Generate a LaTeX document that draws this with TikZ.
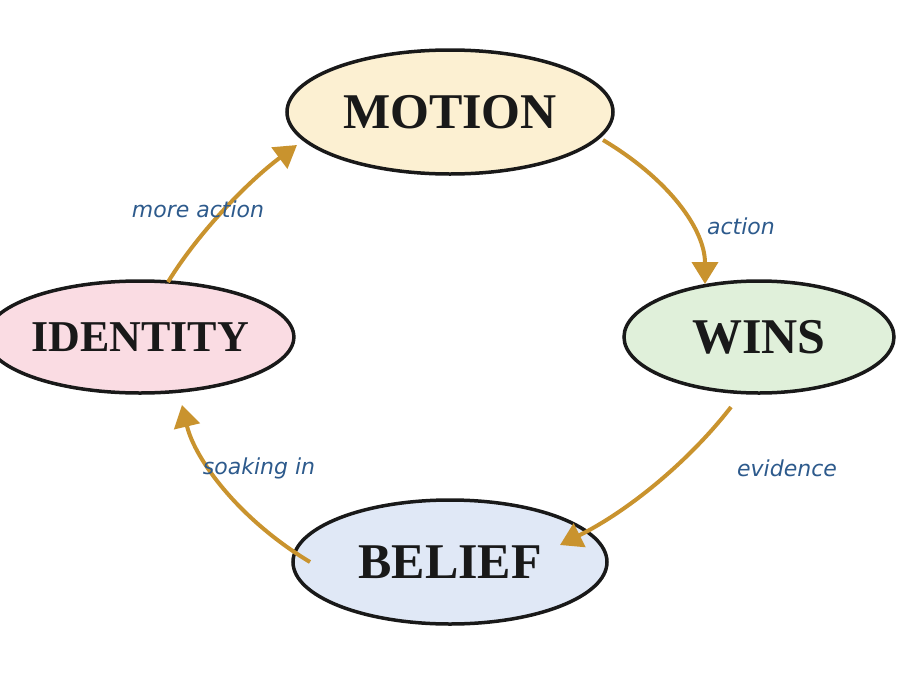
\documentclass[tikz,border=0pt]{standalone}
\usepackage{fontspec}
\setmainfont{Liberation Serif}
\newfontfamily\lblfont{DejaVu Sans}
\usetikzlibrary{arrows.meta,shapes.geometric}
\definecolor{arr}{HTML}{C9932E}
\definecolor{lbl}{HTML}{2D5A8C}
\begin{document}
\begin{tikzpicture}[x=1pt,y=-1pt,
  st/.style={ellipse,draw=black!90,line width=3.5pt,inner sep=0pt,font=\bfseries\fontsize{50}{50}\selectfont,text=black!90},
  ar/.style={draw=arr,line width=4pt,-{Triangle[length=22pt,width=26pt]}},
  lb/.style={font=\lblfont\itshape\fontsize{22}{22}\selectfont,text=lbl}]
\useasboundingbox (0,0) rectangle (900,675);
\node[st,fill={rgb,255:red,252;green,240;blue,210},minimum width=326pt,minimum height=124pt] (m) at (450,112) {MOTION};
\node[st,fill={rgb,255:red,224;green,240;blue,218},minimum width=270pt,minimum height=112pt] (w) at (759,337) {WINS};
\node[st,fill={rgb,255:red,250;green,220;blue,227},minimum width=270pt,minimum height=112pt,font=\bfseries\fontsize{44}{44}\selectfont] (i) at (140,337) {IDENTITY};
\node[st,fill={rgb,255:red,224;green,232;blue,246},minimum width=314pt,minimum height=124pt] (b) at (450,562) {BELIEF};
\coordinate (m1) at (603,140); \coordinate (w0) at (705,284);
\coordinate (w1) at (731,407); \coordinate (b0) at (560,545);
\coordinate (b1) at (310,562); \coordinate (i0) at (182,405);
\coordinate (i1) at (168,282); \coordinate (m0) at (297,145);
\draw[ar] (m1) .. controls (670,180) and (705,230) .. (w0);
\draw[ar] (w1) .. controls (690,460) and (630,510) .. (b0);
\draw[ar] (b1) .. controls (240,520) and (195,460) .. (i0);
\draw[ar] (i1) .. controls (200,230) and (250,180) .. (m0);
\node[lb] at (198,209) {more action};
\node[lb] at (741,226) {action};
\node[lb] at (787,468) {evidence};
\node[lb] at (259,468) {soaking in};
\end{tikzpicture}
\end{document}
